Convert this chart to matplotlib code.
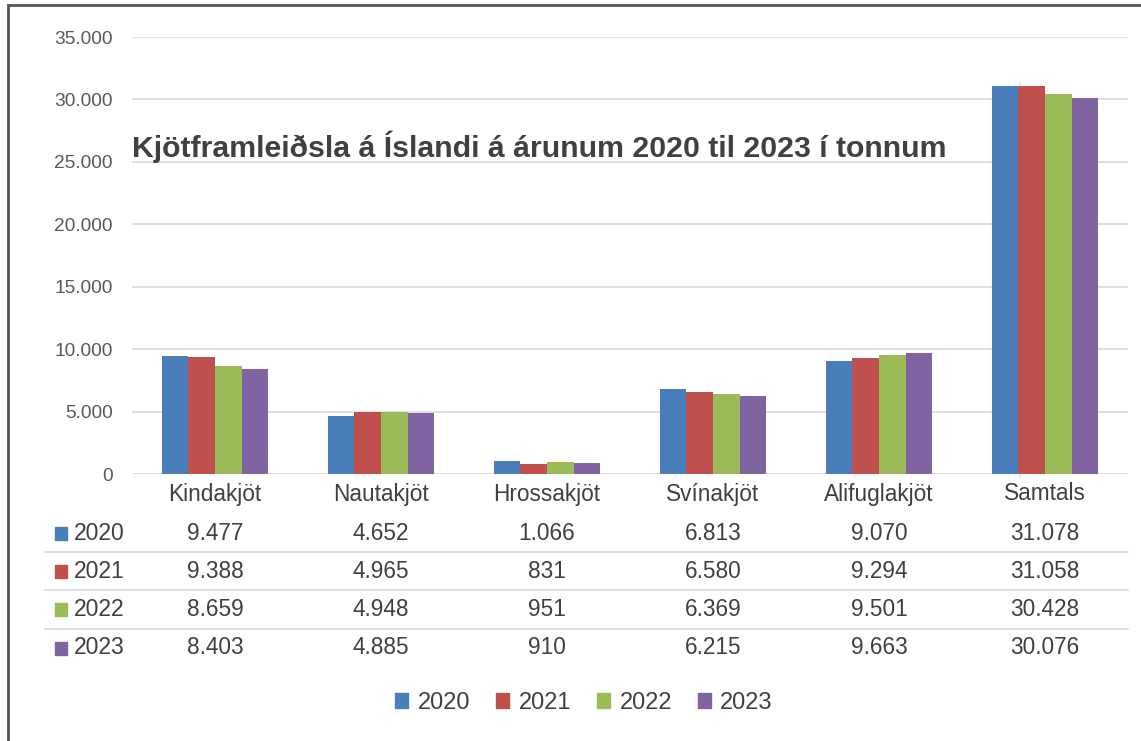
import numpy as np
import matplotlib
matplotlib.use("Agg")
import matplotlib.pyplot as plt
from matplotlib.patches import Rectangle
from matplotlib.transforms import blended_transform_factory

# data (tonnes)
categories = ["Kindakjöt", "Nautakjöt", "Hrossakjöt", "Svínakjöt", "Alifuglakjöt", "Samtals"]
years = ["2020", "2021", "2022", "2023"]
values_2020 = [9477, 4652, 1066, 6813, 9070, 31078]
values_2021 = [9388, 4965, 831, 6580, 9294, 31058]
values_2022 = [8659, 4948, 951, 6369, 9501, 30428]
values_2023 = [8403, 4885, 910, 6215, 9663, 30076]
series = [values_2020, values_2021, values_2022, values_2023]
colors = ["#4a7ebb", "#c0504d", "#9bbb59", "#8064a2"]
title = "Kjötframleiðsla á Íslandi á árunum 2020 til 2023 í tonnum"


def fmt(v):
    return f"{v:,}".replace(",", ".")


plt.rcParams['font.family'] = ['Liberation Sans', 'DejaVu Sans']

W, H = 1141, 741
fig = plt.figure(figsize=(W / 100, H / 100), dpi=100)
fig.patch.set_facecolor("white")


def fy(py):
    return 1 - py / H


ax = fig.add_axes([132 / W, fy(474), (1128 - 132) / W, (474 - 37) / H])

x = np.arange(len(categories))
bw = 0.16
for i, (vals, c) in enumerate(zip(series, colors)):
    ax.bar(x + (i - 1.5) * bw, vals, width=bw, color=c, zorder=3)

ax.set_xlim(-0.5, len(categories) - 0.5)
ax.set_ylim(0, 35000)
ax.set_yticks(np.arange(0, 35001, 5000))
ax.set_yticklabels([fmt(v) for v in range(0, 35001, 5000)])
ax.tick_params(axis="y", length=0, pad=14, labelsize=13.8, labelcolor="#595959")
ax.set_xticks([])
ax.grid(axis="y", color="#d9d9d9", linewidth=1.2, zorder=0)
for s in ax.spines.values():
    s.set_visible(False)

fig.text(132 / W, fy(147), title, fontsize=21.8, fontweight="bold",
         color="#404040", ha="left", va="center")

# data table under the axis
tr = blended_transform_factory(ax.transData, fig.transFigure)
tcol = "#404040"
for j, cat in enumerate(categories):
    ax.text(j, fy(494), cat, transform=tr, ha="center", va="center",
            fontsize=16.3, color=tcol)

row_y = [533, 571, 609, 648]
for i, (yr, vals, c) in enumerate(zip(years, series, colors)):
    y = fy(row_y[i])
    fig.patches.append(Rectangle((55 / W, y - 6.5 / H), 12 / W, 13 / H,
                                 transform=fig.transFigure, color=c))
    fig.text(74 / W, y, yr, fontsize=16.5, color=tcol, ha="left", va="center")
    for j, v in enumerate(vals):
        ax.text(j, y, fmt(v), transform=tr, ha="center", va="center",
                fontsize=16.3, color=tcol)

for ly in [552, 590, 629]:
    fig.add_artist(plt.Line2D([45 / W, 1128 / W], [fy(ly), fy(ly)],
                              color="#d9d9d9", linewidth=1.2))

# bottom legend
handles = [Rectangle((0, 0), 1, 1, color=c) for c in colors]
fig.legend(handles, years, loc="center", bbox_to_anchor=(584 / W, fy(703)),
           ncol=4, frameon=False, fontsize=17, handlelength=0.55,
           handleheight=0.6, handletextpad=0.4, columnspacing=1.1,
           labelcolor="#404040")

# outer frame of the screenshot
fig.add_artist(Rectangle((8 / W, -0.05), 1.2, fy(5) + 0.05,
                         transform=fig.transFigure, fill=False,
                         edgecolor="#555555", linewidth=2))

fig.savefig("out.png", dpi=100)
